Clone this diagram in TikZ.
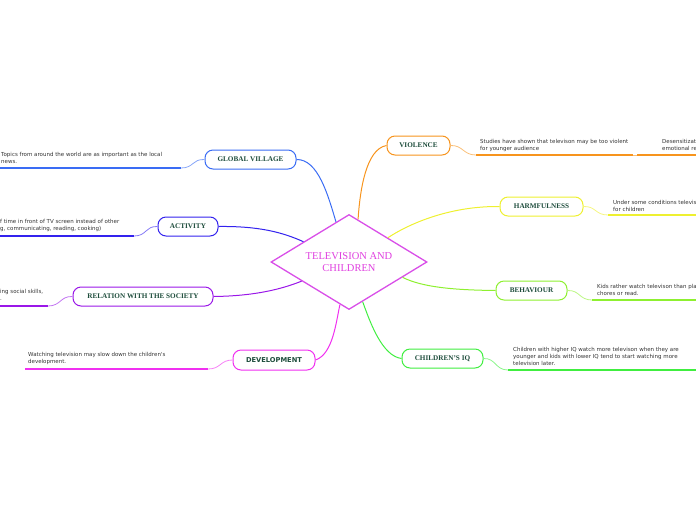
\documentclass[tikz,border=0pt]{standalone}
\usepackage{fontspec}
\setmainfont{Liberation Serif}
\newfontfamily\leaffont{DejaVu Sans}
\newfontfamily\sansbold{DejaVu Sans}
\usetikzlibrary{shapes.geometric}
\definecolor{labelc}{HTML}{1E4D3C}
\definecolor{leafc}{HTML}{333333}
\definecolor{gvc}{HTML}{3A6CF4}
\definecolor{actc}{HTML}{3322EE}
\definecolor{relc}{HTML}{9A17E8}
\definecolor{devc}{HTML}{F030F0}
\definecolor{vioc}{HTML}{F7941D}
\definecolor{harmc}{HTML}{EEF030}
\definecolor{behc}{HTML}{8EF030}
\definecolor{iqc}{HTML}{40EE40}
\definecolor{centc}{HTML}{D94FE8}
\definecolor{centt}{HTML}{E040E0}
\tikzset{
  topic/.style={draw=#1, line width=1pt, rounded corners=8pt, fill=white, inner sep=0pt,
    minimum height=19pt, text=labelc, font=\fontsize{7.2}{8}\selectfont\bfseries},
  conn/.style={draw=#1, line width=1pt},
  thin/.style={draw=#1!60, line width=0.8pt},
  uline/.style={draw=#1, line width=1.6pt},
  leaf/.style={anchor=north west, inner sep=0pt, align=left, text=leafc,
    font=\leaffont\fontsize{5.5}{7}\selectfont}
}
\begin{document}
\begin{tikzpicture}[x=1pt,y=-1pt]
\useasboundingbox (0,0) rectangle (696,520);
\clip (0,0) rectangle (696,520);
% central
\node[diamond, draw=centc, line width=1.3pt, fill=white, aspect=1.64,
  minimum width=156pt, minimum height=95pt, inner sep=0pt, align=center,
  text=centt, font=\fontsize{10.5}{12}\selectfont] (c) at (349,262) {TELEVISION AND\\CHILDREN};
% topics
\node[topic=gvc, minimum width=91pt] (gv) at (250.5,159.5) {GLOBAL VILLAGE};
\node[topic=actc, minimum width=60pt] (act) at (188,226.5) {ACTIVITY};
\node[topic=relc, minimum width=140pt] (rel) at (143,296.5) {RELATION WITH THE SOCIETY};
\node[topic=devc, minimum width=82pt, minimum height=20pt, font=\sansbold\fontsize{6.7}{8}\selectfont\bfseries] (dev) at (274,360) {DEVELOPMENT};
\node[topic=vioc, minimum width=63pt] (vio) at (418.5,145.5) {VIOLENCE};
\node[topic=harmc, minimum width=83pt] (harm) at (541.5,206.5) {HARMFULNESS};
\node[topic=behc, minimum width=71pt] (beh) at (531.5,290.5) {BEHAVIOUR};
\node[topic=iqc, minimum width=81pt] (iq) at (442.5,358.5) {CHILDREN'S IQ};
% main connectors
\draw[conn=gvc] (gv.east) .. controls (318,159) and (328,195) .. (c.108);
\draw[conn=actc] (act.east) .. controls (258,226) and (282,232) .. (c.156);
\draw[conn=relc] (rel.east) .. controls (255,296) and (282,289) .. (c.202);
\draw[conn=devc] (dev.east) .. controls (333,354) and (336,322) .. (c.258);
\draw[conn=vioc] (vio.west) .. controls (366,149) and (360,190) .. (c.78);
\draw[conn=harmc] (harm.west) .. controls (452,206) and (412,222) .. (c.32);
\draw[conn=behc] (beh.west) .. controls (452,290) and (422,287) .. (c.344);
\draw[conn=iqc] (iq.west) .. controls (382,356) and (370,322) .. (c.289);
% underline coordinates
\coordinate (gvA) at (181,168); \coordinate (gvB) at (0,168);
\coordinate (actA) at (134,236); \coordinate (actB) at (0,236);
\coordinate (relA) at (48,306); \coordinate (relB) at (0,306);
\coordinate (devA) at (208,369); \coordinate (devB) at (25,369);
\coordinate (vioA) at (476,155); \coordinate (vioB) at (633,155);
\coordinate (vio2A) at (637,155); \coordinate (vio2B) at (696,155);
\coordinate (harmA) at (608,215); \coordinate (harmB) at (696,215);
\coordinate (behA) at (592,300); \coordinate (behB) at (696,300);
\coordinate (iqA) at (508,370); \coordinate (iqB) at (696,370);
% leaf connectors
\draw[thin=gvc] (gv.west) .. controls (192,159) and (194,168) .. (gvA);
\draw[thin=actc] (act.west) .. controls (145,226) and (147,236) .. (actA);
\draw[thin=relc] (rel.west) .. controls (60,296) and (61,306) .. (relA);
\draw[thin=devc] (dev.west) .. controls (220,360) and (221,369) .. (devA);
\draw[thin=vioc] (vio.east) .. controls (463,145) and (463,155) .. (vioA);
\draw[thin=vioc] (vioB) -- (vio2A);
\draw[thin=harmc] (harm.east) .. controls (596,206) and (595,215) .. (harmA);
\draw[thin=behc] (beh.east) .. controls (580,290) and (579,300) .. (behA);
\draw[thin=iqc] (iq.east) .. controls (496,358) and (495,370) .. (iqA);
% underlines
\draw[uline=gvc] (gvA) -- (gvB);
\draw[uline=actc] (actA) -- (actB);
\draw[uline=relc] (relA) -- (relB);
\draw[uline=devc] (devA) -- (devB);
\draw[uline=vioc] (vioA) -- (vioB);
\draw[uline=vioc] (vio2A) -- (vio2B);
\draw[uline=harmc] (harmA) -- (harmB);
\draw[uline=behc] (behA) -- (behB);
\draw[uline=iqc] (iqA) -- (iqB);
% leaf texts
\node[leaf] (gvt) at (1,152.5) {Topics from around the world are as important as the local\\news.};
\node[leaf] (actt) at (0,219.5) {f time in front of TV screen instead of other\\g, communicating, reading, cooking)};
\node[leaf] (relt) at (0,289.5) {ing social skills,\\.};
\node[leaf] (devt) at (28,352.5) {Watching television may slow down the children's\\development.};
\node[leaf] (viot) at (480,139.5) {Studies have shown that televison may be too violent\\for younger audience};
\node[leaf] (vio2t) at (662,139.5) {Desensitization\\emotional response};
\node[leaf] (harmt) at (613,200.5) {Under some conditions television\\for children};
\node[leaf] (beht) at (597,284) {Kids rather watch televison than play\\chores or read.};
\node[leaf] (iqt) at (513,347) {Children with higher IQ watch more televison when they are\\younger and kids with lower IQ tend to start watching more\\television later.};
\end{tikzpicture}
\end{document}
